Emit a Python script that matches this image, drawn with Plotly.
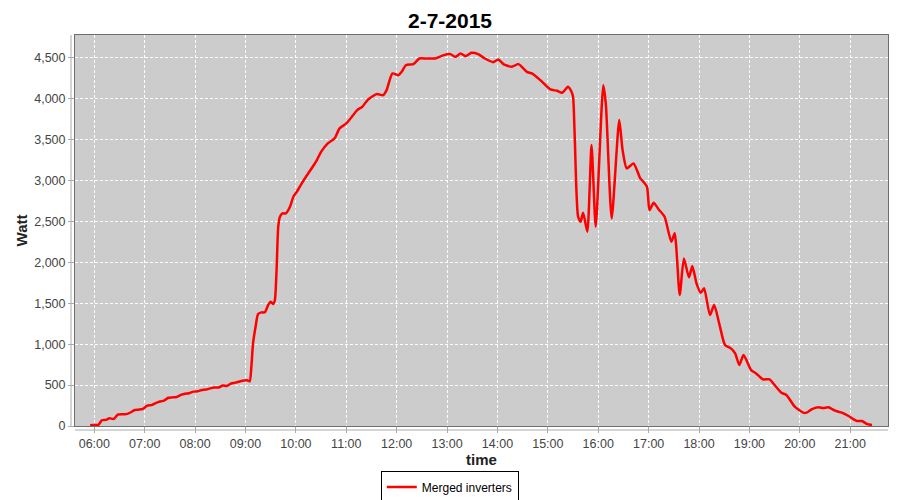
import plotly.graph_objects as go

# readings of the merged inverter output, 2 July 2015
times = [
    "05:55", "06:00", "06:05", "06:09", "06:14", "06:18", "06:23", "06:28", "06:33", "06:38",
    "06:43", "06:48", "06:53", "06:58", "07:03", "07:08", "07:13", "07:18", "07:23", "07:28",
    "07:33", "07:38", "07:43", "07:48", "07:53", "07:58", "08:03", "08:08", "08:13", "08:18",
    "08:23", "08:28", "08:33", "08:38", "08:43", "08:48", "08:53", "08:58", "09:02", "09:05",
    "09:07", "09:09", "09:12", "09:15", "09:19", "09:23", "09:27", "09:30", "09:33", "09:35",
    "09:37", "09:39", "09:41", "09:44", "09:48", "09:53", "09:57", "10:01", "10:07", "10:12",
    "10:20", "10:25", "10:30", "10:38", "10:46", "10:52", "11:00", "11:05", "11:13", "11:19",
    "11:26", "11:36", "11:44", "11:48", "11:55", "12:02", "12:06", "12:11", "12:20", "12:27",
    "12:35", "12:46", "12:56", "13:04", "13:10", "13:16", "13:22", "13:29", "13:37", "13:45",
    "13:55", "14:01", "14:07", "14:17", "14:25", "14:35", "14:41", "14:51", "15:03", "15:11",
    "15:17", "15:24", "15:28", "15:30", "15:32", "15:36", "15:39", "15:42", "15:47", "15:52",
    "15:57", "16:06", "16:09", "16:16", "16:25", "16:29", "16:34", "16:42", "16:50", "16:52",
    "16:58", "17:01", "17:06", "17:12", "17:19", "17:27", "17:31", "17:37", "17:42", "17:48",
    "17:52", "17:57", "18:02", "18:06", "18:13", "18:18", "18:24", "18:31", "18:38", "18:43",
    "18:48", "18:53", "19:02", "19:08", "19:16", "19:24", "19:30", "19:38", "19:44", "19:54",
    "20:04", "20:08", "20:14", "20:22", "20:28", "20:34", "20:42", "20:50", "20:58", "21:08",
    "21:14", "21:20", "21:26",
]
watt = [
    10, 12, 15, 70, 75, 95, 85, 140, 145, 145,
    165, 195, 200, 210, 250, 255, 280, 300, 310, 345,
    350, 355, 380, 395, 400, 420, 425, 440, 445, 460,
    470, 470, 495, 490, 520, 530, 545, 555, 560, 545,
    725, 1010, 1213, 1369, 1389, 1390, 1479, 1519, 1491, 1540,
    1906, 2436, 2558, 2599, 2599, 2680, 2803, 2863, 2966, 3047,
    3169, 3251, 3352, 3455, 3516, 3638, 3699, 3760, 3862, 3902,
    3992, 4057, 4045, 4106, 4310, 4289, 4330, 4411, 4424, 4493,
    4493, 4493, 4534, 4546, 4513, 4554, 4521, 4562, 4546, 4493,
    4448, 4481, 4424, 4391, 4424, 4330, 4310, 4228, 4114, 4098,
    4073, 4147, 4090, 4024, 3535, 2558, 2497, 2607, 2375, 3434,
    2436, 4167, 3944, 2538, 3740, 3373, 3149, 3210, 3027, 3006,
    2924, 2639, 2729, 2648, 2558, 2252, 2355, 1601, 2049, 1817,
    1955, 1744, 1629, 1683, 1356, 1479, 1255, 990, 949, 888,
    745, 868, 684, 643, 571, 571, 501, 407, 379, 236,
    163, 163, 204, 228, 220, 228, 187, 163, 122, 61,
    61, 24, 12,
]

day = "2015-07-02"
x = [f"{day} {t}" for t in times]

font = "Liberation Sans, Arial, sans-serif"

fig = go.Figure(go.Scatter(
    x=x,
    y=watt,
    mode="lines",
    name="Merged inverters",
    line=dict(color="#ff0000", width=2.5, shape="spline", smoothing=0.6),
))

# page body adds an 8px margin, so the figure is a bit smaller than the window
fig.update_layout(
    width=892,
    height=492,
    margin=dict(l=67, r=12, t=27, b=74, autoexpand=False),
    paper_bgcolor="white",
    plot_bgcolor="#cccccc",
    font=dict(family=font, size=12.5, color="#444444"),
    title=dict(text="<b>2-7-2015</b>", x=0.4955, xanchor="center", y=0.974, yanchor="middle",
               font=dict(family=font, size=21, color="black")),
    showlegend=True,
    legend=dict(orientation="h", x=0.461, xanchor="center", y=-0.156, yanchor="middle",
                bordercolor="black", borderwidth=1, bgcolor="white",
                font=dict(family=font, size=12, color="black"),
                itemwidth=30, tracegroupgap=0),
)

fig.update_xaxes(
    type="date",
    automargin=False,
    range=[f"{day} 05:37", f"{day} 21:45"],
    dtick=3600000,
    tick0=f"{day} 06:00",
    tickformat="%H:%M",
    showgrid=True, gridcolor="white", gridwidth=1, griddash="3px,2px",
    showline=True, linecolor="#6e6e6e", linewidth=1, mirror=True,
    ticks="outside", ticklen=6, tickcolor="#aaaaaa",
    zeroline=False,
    title=dict(text="<b>time</b>", font=dict(family=font, size=15, color="#222222"), standoff=3),
)
fig.update_yaxes(
    automargin=False,
    range=[0, 4780],
    dtick=500,
    tickformat=",d",
    showgrid=True, gridcolor="white", gridwidth=1, griddash="3px,2px",
    showline=True, linecolor="#6e6e6e", linewidth=1, mirror=True,
    ticks="outside", ticklen=6, tickcolor="#aaaaaa",
    zeroline=False,
    title=dict(text="<b>Watt</b>", font=dict(family=font, size=15, color="#222222"), standoff=2),
)

# detached axis lines, as the original renderer draws them a few pixels off the plot
fig.add_shape(type="line", xref="paper", yref="paper", x0=-4 / 813, x1=-4 / 813, y0=0, y1=1,
              line=dict(color="#aaaaaa", width=1))
fig.add_shape(type="line", xref="paper", yref="paper", x0=0, x1=1, y0=-4 / 391, y1=-4 / 391,
              line=dict(color="#aaaaaa", width=1))

fig.write_html("out.html")
